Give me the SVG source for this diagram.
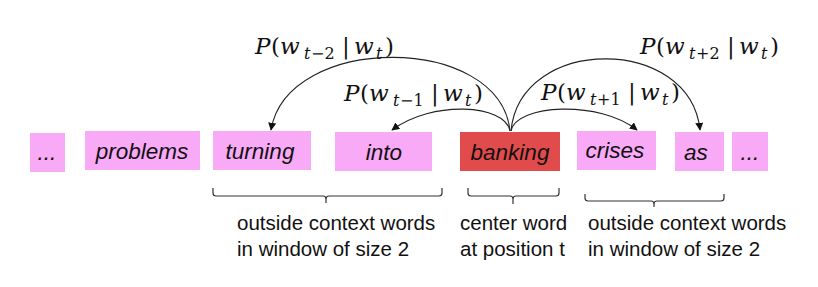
<svg xmlns="http://www.w3.org/2000/svg" width="818" height="287" viewBox="0 0 818 287">
<style>
.ctx{fill:#F9AAF6}
.ctr{fill:#E24B4B}
.w{font-family:"Liberation Sans",Arial,sans-serif;font-style:italic;font-size:22.5px;fill:#111;text-anchor:middle}
.lbl{font-family:"Liberation Sans",Arial,sans-serif;font-size:20.5px;fill:#111}
.m{font-family:"DejaVu Serif","Liberation Serif",serif;font-size:23px;fill:#111}
.i{font-style:italic}
.s{font-size:16px}
.arc{fill:none;stroke:#222;stroke-width:1.1}
.br{fill:none;stroke:#333;stroke-width:1.2}
</style>
<defs>
<marker id="ah" viewBox="0 0 10 10" refX="9" refY="5" markerWidth="8" markerHeight="8" markerUnits="userSpaceOnUse" orient="auto">
<path d="M0,0 L10,5 L0,10 z" fill="#111"/>
</marker>
</defs>
<rect width="818" height="287" fill="#fff"/>

<g id="n-dots-left"><rect class="ctx" x="30" y="133" width="35" height="39"/><text class="w" x="47" y="160">...</text></g>
<g id="n-problems"><rect class="ctx" x="85" y="131" width="115" height="39"/><text class="w" x="142" y="159">problems</text></g>
<g id="n-turning"><rect class="ctx" x="213" y="131" width="98" height="39"/><text class="w" x="260" y="159">turning</text></g>
<g id="n-into"><rect class="ctx" x="335" y="132" width="97" height="39"/><text class="w" x="384" y="160">into</text></g>
<g id="n-banking"><rect class="ctr" x="460" y="132" width="100" height="39"/><text class="w" x="510" y="160">banking</text></g>
<g id="n-crises"><rect class="ctx" x="577" y="131" width="79" height="39"/><text class="w" x="615" y="158">crises</text></g>
<g id="n-as"><rect class="ctx" x="675" y="132" width="49" height="39"/><text class="w" x="696" y="160">as</text></g>
<g id="n-dots-right"><rect class="ctx" x="732" y="132" width="36" height="39"/><text class="w" x="750" y="160">...</text></g>

<g id="connectors">
<path class="arc" d="M510,131 C500,33 287,33 271,130" marker-end="url(#ah)"/>
<path class="arc" d="M510,131 C505,104 432,100 392,130" marker-end="url(#ah)"/>
<path class="arc" d="M511,131 C516,104 600,100 637,130" marker-end="url(#ah)"/>
<path class="arc" d="M511,131 C520,35 690,35 700,130" marker-end="url(#ah)"/>
</g>

<g id="labels-prob">
<text class="m"><tspan class="i" x="255" y="54">P</tspan><tspan x="271">(</tspan><tspan class="i" x="280">w</tspan><tspan class="i s" x="304" y="59">t</tspan><tspan class="s" x="311">−2</tspan><tspan x="342" y="54">|</tspan><tspan class="i" x="354">w</tspan><tspan class="i s" x="376" y="59">t</tspan><tspan x="385" y="54">)</tspan></text>
<text class="m"><tspan class="i" x="344" y="101">P</tspan><tspan x="360">(</tspan><tspan class="i" x="369">w</tspan><tspan class="i s" x="393" y="106">t</tspan><tspan class="s" x="400">−1</tspan><tspan x="431" y="101">|</tspan><tspan class="i" x="443">w</tspan><tspan class="i s" x="465" y="106">t</tspan><tspan x="474" y="101">)</tspan></text>
<text class="m"><tspan class="i" x="541" y="100">P</tspan><tspan x="557">(</tspan><tspan class="i" x="566">w</tspan><tspan class="i s" x="590" y="105">t</tspan><tspan class="s" x="597">+1</tspan><tspan x="628" y="100">|</tspan><tspan class="i" x="640">w</tspan><tspan class="i s" x="662" y="105">t</tspan><tspan x="671" y="100">)</tspan></text>
<text class="m"><tspan class="i" x="640" y="54">P</tspan><tspan x="656">(</tspan><tspan class="i" x="665">w</tspan><tspan class="i s" x="689" y="59">t</tspan><tspan class="s" x="696">+2</tspan><tspan x="727" y="54">|</tspan><tspan class="i" x="739">w</tspan><tspan class="i s" x="761" y="59">t</tspan><tspan x="770" y="54">)</tspan></text>
</g>

<g id="brace-left">
<path class="br" d="M213,188 L213,193 Q213,196 216,196 L323,196 Q326,196 326,199 L326,203 M326,199 Q326,196 329,196 L439,196 Q442,196 442,193 L442,188"/>
<text class="lbl" x="237" y="230">outside context words</text>
<text class="lbl" x="237" y="256">in window of size 2</text>
</g>
<g id="brace-center">
<path class="br" d="M468,188 L468,193 Q468,196 471,196 L510,196 Q513,196 513,199 L513,204 M513,199 Q513,196 516,196 L556,196 Q559,196 559,193 L559,188"/>
<text class="lbl" x="460" y="230">center word</text>
<text class="lbl" x="460" y="256">at position t</text>
</g>
<g id="brace-right">
<path class="br" d="M585,194 L585,198 Q585,201 588,201 L651,201 Q654,201 654,204 L654,207 M654,204 Q654,201 657,201 L721,201 Q724,201 724,198 L724,194"/>
<text class="lbl" x="588" y="230">outside context words</text>
<text class="lbl" x="588" y="256">in window of size 2</text>
</g>
</svg>
